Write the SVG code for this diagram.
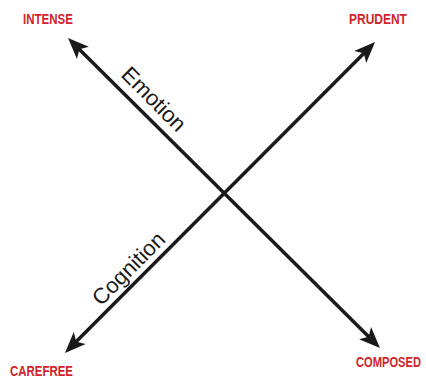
<svg xmlns="http://www.w3.org/2000/svg" width="426" height="378" viewBox="0 0 426 378">
<style>
.lbl{font-family:"Liberation Sans",Arial,sans-serif;font-weight:bold;font-size:15.5px;fill:#d2232a}
.axis{font-family:"Liberation Sans",Arial,sans-serif;font-size:22px;fill:#1a1a1a}
.ln{stroke:#1a1a1a;stroke-width:3.5;fill:none;marker-start:url(#ah);marker-end:url(#ah)}
</style>
<defs>
<marker id="ah" markerUnits="userSpaceOnUse" viewBox="-15 -15 30 30" markerWidth="30" markerHeight="30" refX="0" refY="0" orient="auto-start-reverse">
<path d="M8,0 L-13,-8.5 L-8,0 L-13,8.5 Z" fill="#1a1a1a"/>
</marker>
</defs>
<rect width="426" height="378" fill="#ffffff"/>
<g id="connectors">
<line id="emotion-axis" class="ln" x1="73.7" y1="43.7" x2="374.3" y2="342.3"/>
<line id="cognition-axis" class="ln" x1="70.6" y1="347.3" x2="369.4" y2="47.7"/>
</g>
<g id="intense"><text class="lbl" transform="translate(23,24) scale(0.744,1)">INTENSE</text></g>
<g id="prudent"><text class="lbl" transform="translate(349,24) scale(0.774,1)">PRUDENT</text></g>
<g id="carefree"><text class="lbl" transform="translate(10,375.5) scale(0.739,1)">CAREFREE</text></g>
<g id="composed"><text class="lbl" text-anchor="end" transform="translate(421,367) scale(0.719,1)">COMPOSED</text></g>
<g id="emotion"><text class="axis" text-anchor="middle" transform="translate(148.6,104.4) rotate(45)">Emotion</text></g>
<g id="cognition"><text class="axis" text-anchor="middle" transform="translate(133.8,273.8) rotate(-45)">Cognition</text></g>
</svg>
